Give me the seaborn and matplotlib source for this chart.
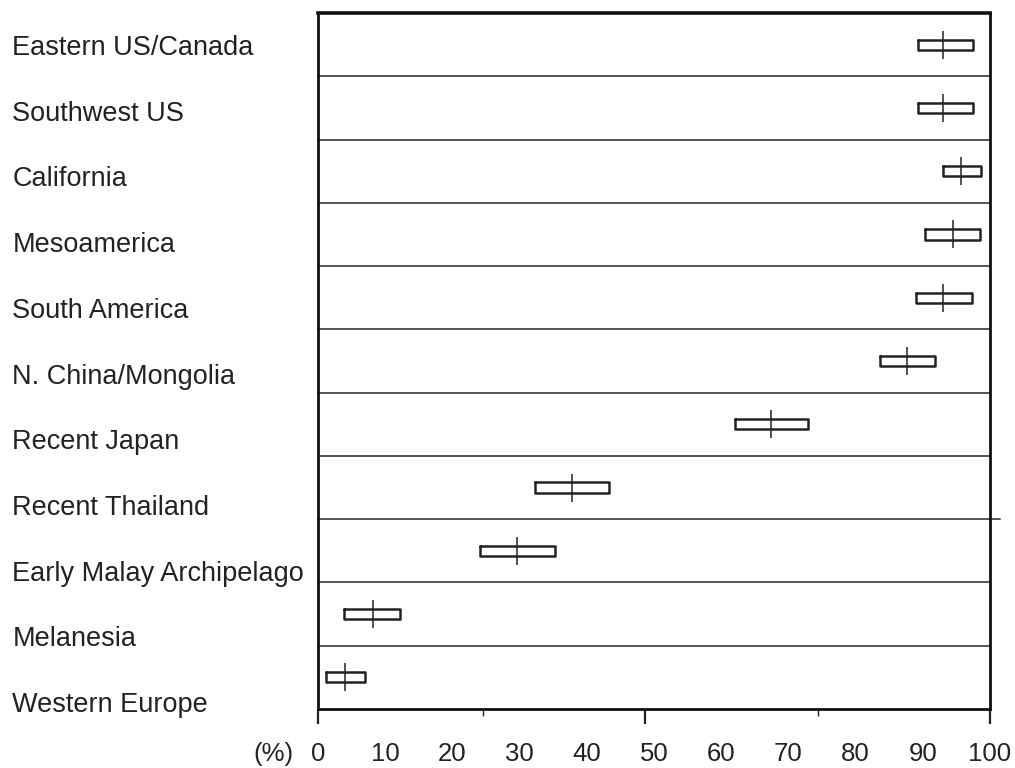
import pandas as pd
import numpy as np
import matplotlib.pyplot as plt
import seaborn as sns

# regions, top to bottom
regions = ["Eastern US/Canada", "Southwest US", "California", "Mesoamerica",
           "South America", "N. China/Mongolia", "Recent Japan", "Recent Thailand",
           "Early Malay Archipelago", "Melanesia", "Western Europe"]
# interval low / centre / high (%)
low = [89.3, 89.3, 93.0, 90.3, 89.0, 83.6, 62.1, 32.3, 24.1, 3.9, 1.2]
mid = [93.0, 93.0, 95.7, 94.5, 93.0, 87.6, 67.4, 37.8, 29.6, 8.2, 4.0]
high = [97.5, 97.5, 98.7, 98.5, 97.3, 91.8, 72.9, 43.3, 35.3, 12.2, 7.0]
xticks = [0, 10, 20, 30, 40, 50, 60, 70, 80, 90, 100]
# tick marks under the axis, as drawn in the original
marks = [0, 24.5, 48.7, 74.4, 100]
short_marks = [24.5, 74.4]

# long table: low, low, mid, high, high -> Q1=low, median=mid, Q3=high
rows = []
for r, lo, m, hi in zip(regions, low, mid, high):
    for v in (lo, lo, m, hi, hi):
        rows.append({"region": r, "value": v})
df = pd.DataFrame(rows)
centres = pd.DataFrame({"region": regions, "value": mid})

sns.set_style("white")
plt.rcParams['font.family'] = ['Liberation Sans', 'DejaVu Sans']

fig = plt.figure(figsize=(10.15, 7.68), dpi=100)
ax = fig.add_axes([0.3133, 0.0768, 0.6621, 0.9063])

sns.boxplot(data=df, x="value", y="region", order=regions, orient="h",
            whis=0, width=0.16, fill=False, color="#222222", linewidth=1.8,
            showcaps=False, showfliers=False,
            medianprops={"visible": False}, whiskerprops={"visible": False}, ax=ax)
sns.stripplot(data=centres, x="value", y="region", order=regions, orient="h",
              jitter=False, marker="|", s=20, color="#222222", linewidth=1.1, ax=ax)

# row separators
for b in np.arange(0.5, len(regions) - 1, 1):
    ax.axhline(b, xmin=0, xmax=1.015 if b == 7.5 else 1, color="#555555",
               lw=1.4, clip_on=False, zorder=0)

ax.set_xlim(0, 100)
ax.set_ylim(len(regions) - 0.5, -0.5)
ax.set_xlabel("")
ax.set_ylabel("")
ax.tick_params(axis="y", length=0, labelleft=False)

ax.set_xticks(xticks)
ax.set_xticklabels([str(t) for t in xticks])
ax.tick_params(axis="x", which="major", bottom=True, length=0, pad=24,
               labelsize=18.5, labelcolor="#222222")
ax.xaxis.remove_overlapping_locs = False
ax.set_xticks(marks, minor=True)
ax.tick_params(axis="x", which="minor", bottom=True, length=11, width=1.6, color="#222222")
for t, v in zip(ax.xaxis.get_minor_ticks(), marks):
    if v in short_marks:
        t.tick1line.set_markersize(5)
        t.tick1line.set_color("#999999")
        t.tick1line.set_markeredgewidth(1)

for s in ax.spines.values():
    s.set_visible(True)
    s.set_color("#111111")
    s.set_linewidth(2)
ax.spines["top"].set_linewidth(2.6)

ax.text(-0.036, -0.065, "(%)", transform=ax.transAxes, ha="right", va="center",
        fontsize=18.5, color="#222222")

# region names, spaced on their own
ax2 = ax.twinx()
ax2.set_ylim(10.106, -0.487)
ax2.set_yticks(range(len(regions)))
ax2.set_yticklabels(regions)
ax2.yaxis.tick_left()
ax2.tick_params(axis="y", length=0, pad=220, labelsize=19.5, labelcolor="#222222")
for lab in ax2.get_yticklabels():
    lab.set_ha("left")
for s in ax2.spines.values():
    s.set_visible(False)

fig.savefig("out.png", dpi=100)
